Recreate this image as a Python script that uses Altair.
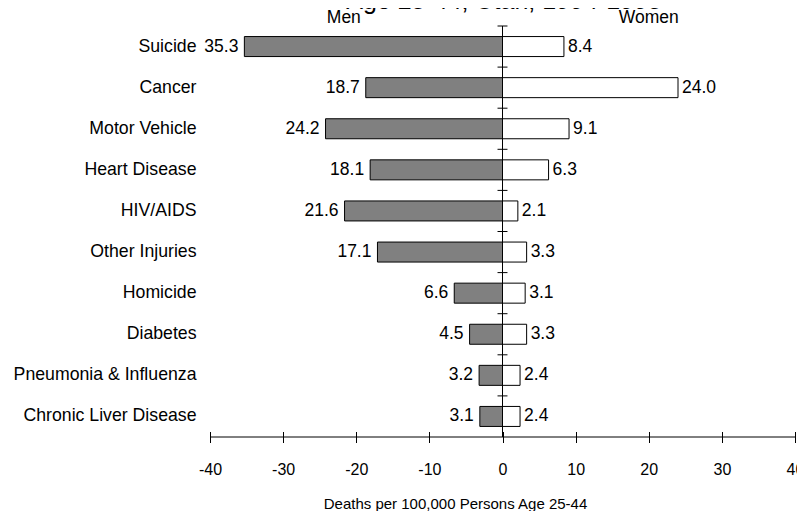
import altair as alt
import pandas as pd

causes = ["Suicide", "Cancer", "Motor Vehicle", "Heart Disease", "HIV/AIDS",
          "Other Injuries", "Homicide", "Diabetes", "Pneumonia & Influenza",
          "Chronic Liver Disease"]
men = [35.3, 18.7, 24.2, 18.1, 21.6, 17.1, 6.6, 4.5, 3.2, 3.1]
women = [8.4, 24.0, 9.1, 6.3, 2.1, 3.3, 3.1, 3.3, 2.4, 2.4]
headers = ["Men", "Women"]
header_pos = [-21.7, 20.0]
x_ticks = [-40, -30, -20, -10, 0, 10, 20, 30, 40]
title_text = "Age 25-44, Utah, 1994-1998"
x_title = "Deaths per 100,000 Persons Age 25-44"

rows = []
for c, m, w in zip(causes, men, women):
    rows.append({"cause": c, "sex": "Men", "pos": -m, "label": f"{m:.1f}"})
    rows.append({"cause": c, "sex": "Women", "pos": w, "label": f"{w:.1f}"})
df = pd.DataFrame(rows)

FONT = "Liberation Sans"
W, H = 585, 411
xscale = alt.Scale(domain=[-40, 40], nice=False, zero=False)
yscale = alt.Scale(domain=causes, paddingInner=0, paddingOuter=0)

ax_x = alt.Axis(values=x_ticks, domain=False, grid=False, tickSize=11, tickColor="black",
                tickWidth=1, offset=-5.5, labelFontSize=16, labelFont=FONT, labelColor="black",
                labelPadding=19, labelExpr="'' + datum.value", labelOverlap=False,
                labelFlush=False, title=x_title, titleFontSize=15, titleFont=FONT,
                titleFontWeight="normal", titleColor="black", titlePadding=19,
                titleX=245, titleAlign="center")
ax_y = alt.Axis(title=None, domain=False, ticks=False, grid=False, labelPadding=14,
                labelFontSize=17.7, labelFont=FONT, labelColor="black", labelLimit=400)


def X(field):
    return alt.X(field, scale=xscale, axis=ax_x)


def Y(field, bp=None):
    if bp is None:
        return alt.Y(field, scale=yscale, sort=causes, axis=ax_y)
    return alt.Y(field, scale=yscale, sort=causes, axis=ax_y, bandPosition=bp)


bars = alt.Chart(df).mark_bar(size=20, stroke="black", strokeWidth=1).encode(
    x=X("pos:Q"),
    y=Y("cause:N"),
    color=alt.Color("sex:N", scale=alt.Scale(domain=["Men", "Women"],
                                             range=["#808080", "#ffffff"]), legend=None),
)

men_lab = alt.Chart(df).transform_filter(alt.datum.sex == "Men").mark_text(
    align="right", baseline="middle", dx=-6, fontSize=17.5, font=FONT, color="black"
).encode(x=X("pos:Q"), y=Y("cause:N"), text="label:N")

women_lab = alt.Chart(df).transform_filter(alt.datum.sex == "Women").mark_text(
    align="left", baseline="middle", dx=4, fontSize=17.5, font=FONT, color="black"
).encode(x=X("pos:Q"), y=Y("cause:N"), text="label:N")

center = alt.Chart(pd.DataFrame({"zero": [0]})).mark_rule(color="black", strokeWidth=1).encode(
    x=X("zero:Q"))

tick_df = pd.DataFrame({"cause": causes, "a": [-0.68] * len(causes), "b": [0.68] * len(causes)})
cticks = alt.Chart(tick_df).mark_rule(color="black", strokeWidth=1).encode(
    x=X("a:Q"), x2="b:Q", y=Y("cause:N", bp=0))

dom_df = pd.DataFrame({"cause": [causes[-1]], "a": [x_ticks[0]], "b": [x_ticks[-1]]})
domain = alt.Chart(dom_df).mark_rule(color="black", strokeWidth=1).encode(
    x=X("a:Q"), x2="b:Q", y=Y("cause:N", bp=1))

head_df = pd.DataFrame({"h": headers, "x": header_pos})
heads = alt.Chart(head_df).mark_text(
    baseline="middle", align="center", fontSize=17.5, font=FONT, color="black"
).encode(x=X("x:Q"), y=alt.value(-8.5), text="h:N")

title_df = pd.DataFrame({"t": [title_text], "x": [0]})
title = alt.Chart(title_df).mark_text(
    baseline="alphabetic", align="center", fontSize=25, font=FONT, color="black", dx=1.5
).encode(x=X("x:Q"), y=alt.value(-17.5), text="t:N")

chart = alt.layer(bars, men_lab, women_lab, center, cticks, domain, heads, title).properties(
    width=W, height=H,
    autosize=alt.AutoSizeParams(type="none"),
    padding={"left": 202, "top": 18, "right": 2, "bottom": 80},
).configure_view(strokeWidth=0)

chart.save("out.html", embed_options={"renderer": "svg", "actions": False})
